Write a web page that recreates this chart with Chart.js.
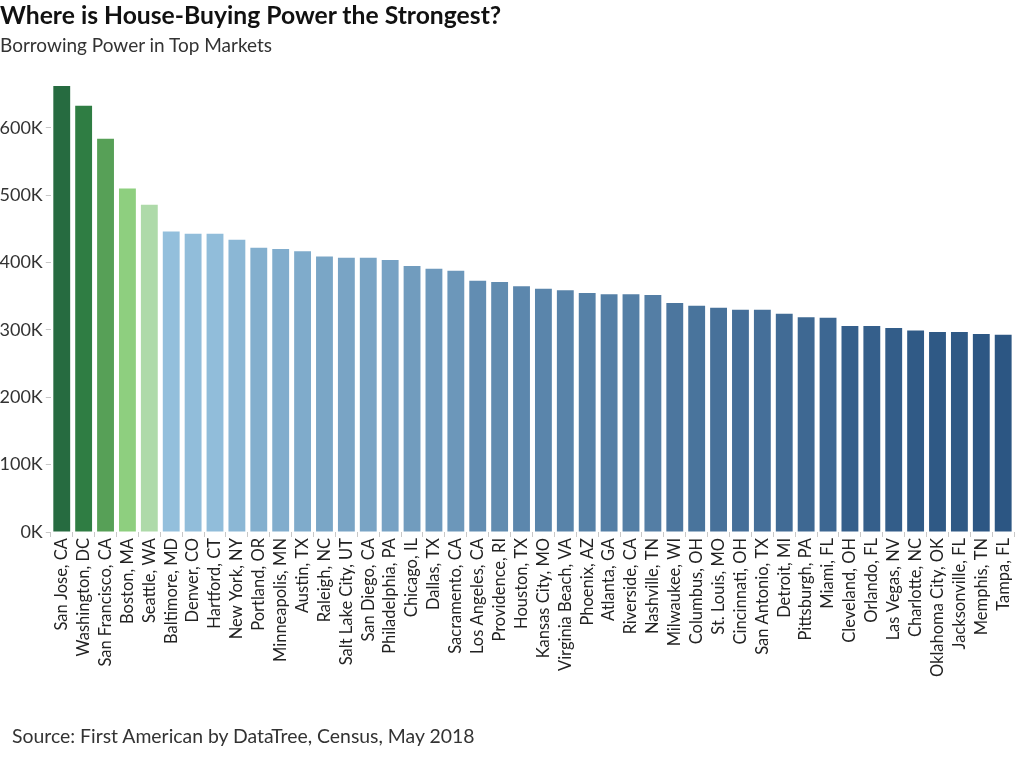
<!DOCTYPE html>
<html>
<head>
<meta charset="utf-8">
<script src="https://cdn.jsdelivr.net/npm/chart.js@4"></script>
<style>
  html, body { margin:0; padding:0; background:#fff; }
  body { width:1024px; height:768px; position:relative; overflow:hidden; font-family: Lato, "Open Sans", sans-serif; }
  #wrap { position:absolute; left:0; top:0; width:1024px; height:768px; }
  .t { position:absolute; white-space:nowrap; line-height:1; }
  #title { left:0; top:3px; font-size:24.7px; font-weight:700; color:#111; }
  #subtitle { left:0; top:35px; font-size:19px; color:#333; }
  #source { left:12px; top:726px; font-size:19.4px; color:#333; }
</style>
</head>
<body>
<div id="wrap"><canvas id="c" width="1024" height="768"></canvas></div>
<div class="t" id="title">Where is House-Buying Power the Strongest?</div>
<div class="t" id="subtitle">Borrowing Power in Top Markets</div>
<div class="t" id="source">Source: First American by DataTree, Census, May 2018</div>
<script>
const categories = ["San Jose, CA","Washington, DC","San Francisco, CA","Boston, MA","Seattle, WA","Baltimore, MD","Denver, CO","Hartford, CT","New York, NY","Portland, OR","Minneapolis, MN","Austin, TX","Raleigh, NC","Salt Lake City, UT","San Diego, CA","Philadelphia, PA","Chicago, IL","Dallas, TX","Sacramento, CA","Los Angeles, CA","Providence, RI","Houston, TX","Kansas City, MO","Virginia Beach, VA","Phoenix, AZ","Atlanta, GA","Riverside, CA","Nashville, TN","Milwaukee, WI","Columbus, OH","St. Louis, MO","Cincinnati, OH","San Antonio, TX","Detroit, MI","Pittsburgh, PA","Miami, FL","Cleveland, OH","Orlando, FL","Las Vegas, NV","Charlotte, NC","Oklahoma City, OK","Jacksonville, FL","Memphis, TN","Tampa, FL"];
const borrowingPower = [662000,633000,584000,510000,486000,446000,443000,443000,434000,422000,420000,417000,409000,407000,407000,404000,395000,391000,388000,373000,371000,365000,361000,359000,355000,353000,353000,352000,340000,336000,333000,330000,330000,324000,319000,318000,306000,306000,303000,299000,297000,297000,294000,293000];
const yTicks = [0,100000,200000,300000,400000,500000,600000];

const greens = ["#266b40","#2f7d43","#57a057","#8ecf7f","#aedaa9"];
const light = [147,191,220], dark = [44,86,131];
const blueVals = borrowingPower.slice(5);
const vMax = Math.max(...blueVals), vMin = Math.min(...blueVals);
const colors = borrowingPower.map((v,i) => {
  if (i < greens.length) return greens[i];
  const t = (vMax - v) / (vMax - vMin);
  const c = light.map((l,k) => Math.round(l + (dark[k]-l)*t));
  return `rgb(${c[0]},${c[1]},${c[2]})`;
});

new Chart(document.getElementById('c'), {
  type: 'bar',
  data: { labels: categories, datasets: [{ data: borrowingPower, backgroundColor: colors, barPercentage: 0.77, categoryPercentage: 1.0 }] },
  options: {
    responsive: false, animation: false,
    layout: { padding: { top: 74, right: 1, left: 0, bottom: 0 } },
    plugins: { legend: { display:false }, tooltip: { enabled:false }, title: { display:false } },
    scales: {
      x: {
        grid: { display:true, drawOnChartArea:false, drawTicks:true, tickLength:5, color:'#c8c8c8', offset:true },
        border: { display:false },
        ticks: { minRotation:90, maxRotation:90, autoSkip:false, padding:1, color:'#222', font:{ family:'Lato', size:16.5 } },
        afterFit: s => { s.height = 236; }
      },
      y: {
        min: 0, max: 680000,
        afterBuildTicks: s => { s.ticks = yTicks.map(v => ({ value: v })); },
        grid: { display:true, drawOnChartArea:false, drawTicks:true, tickLength:5, color:'#c8c8c8' },
        border: { display:false },
        ticks: { padding:3, color:'#333', font:{ family:'Lato', size:18 }, callback: v => (v/1000) + 'K' },
        afterFit: s => { s.width = 50.8; }
      }
    }
  }
});
</script>
</body>
</html>
